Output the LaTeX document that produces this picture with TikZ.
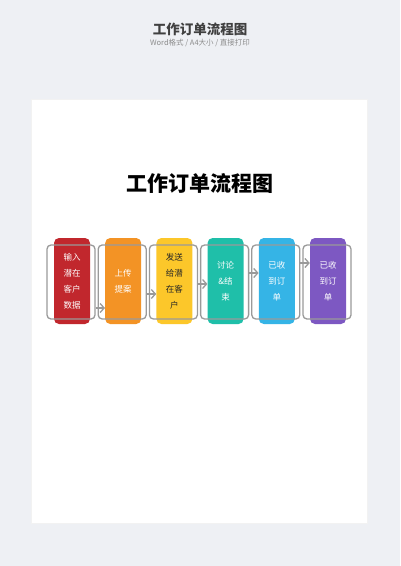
\documentclass[tikz,border=0pt]{standalone}
\usepackage{fontspec}
\newfontfamily\cjk{Noto Sans CJK SC}
\usetikzlibrary{positioning,arrows.meta}
\definecolor{pagebg}{HTML}{EEF0F4}
\definecolor{redbox}{HTML}{C1272D}
\definecolor{orangebox}{HTML}{F39325}
\definecolor{yellowbox}{HTML}{FCC72A}
\definecolor{tealbox}{HTML}{1FBFA9}
\definecolor{bluebox}{HTML}{35B4E6}
\definecolor{purplebox}{HTML}{7D58C2}
\definecolor{framegray}{HTML}{9A9A9A}
\tikzset{
  stepbox/.style={rounded corners=5pt, minimum width=36pt, minimum height=86pt,
    inner sep=0pt, align=center, font=\cjk\fontsize{8.5}{16}\selectfont},
  framebox/.style={draw=framegray, line width=1.3pt, rounded corners=4pt,
    minimum width=48pt, minimum height=74pt, inner sep=0pt},
  flow/.style={-{Straight Barb[length=4pt,width=9pt]}, draw=framegray, line width=1.3pt}
}
\begin{document}
\begin{tikzpicture}[x=1pt,y=-1pt]
    \fill[pagebg] (0,0) rectangle (400,566);
    \fill[black!5] (31,99) rectangle (368,524);
    \fill[white] (32,100) rectangle (367,523);
    \node[font=\cjk\bfseries\fontsize{13.5}{14}\selectfont, text=black!75] (head) at (200,29) {工作订单流程图};
    \node[font=\cjk\fontsize{7.5}{8}\selectfont, text=black!45] (sub) at (200,43) {Word格式 / A4大小 / 直接打印};
    \node[font=\cjk\bfseries\fontsize{21}{22}\selectfont] (title) at (200,183) {工作订单流程图};
    % steps
    \foreach \i/\c/\tc/\t in {1/redbox/white/{输入\\潜在\\客户\\数据}, 2/orangebox/white/{上传\\提案},
        3/yellowbox/black!85/{发送\\给潜\\在客\\户}, 4/tealbox/white/{讨论\\\&结\\束},
        5/bluebox/white/{已收\\到订\\单}, 6/purplebox/white/{已收\\到订\\单}}
    \node[stepbox, fill=\c, text=\tc] (s\i) at ({72+51.2*(\i-1)},281) {\t};
    \foreach \i in {1,...,6}
    \node[framebox] (f\i) at ({71+51.2*(\i-1)},282) {};
    % arrows
    \foreach \i/\j/\h in {1/2/308, 2/3/294, 3/4/284, 4/5/273, 5/6/263} {
      \coordinate (h\i) at (0,\h);
      \draw[flow] (f\i.east |- h\i) -- (s\j.west |- h\i);
    }
  \end{tikzpicture}
\end{document}
